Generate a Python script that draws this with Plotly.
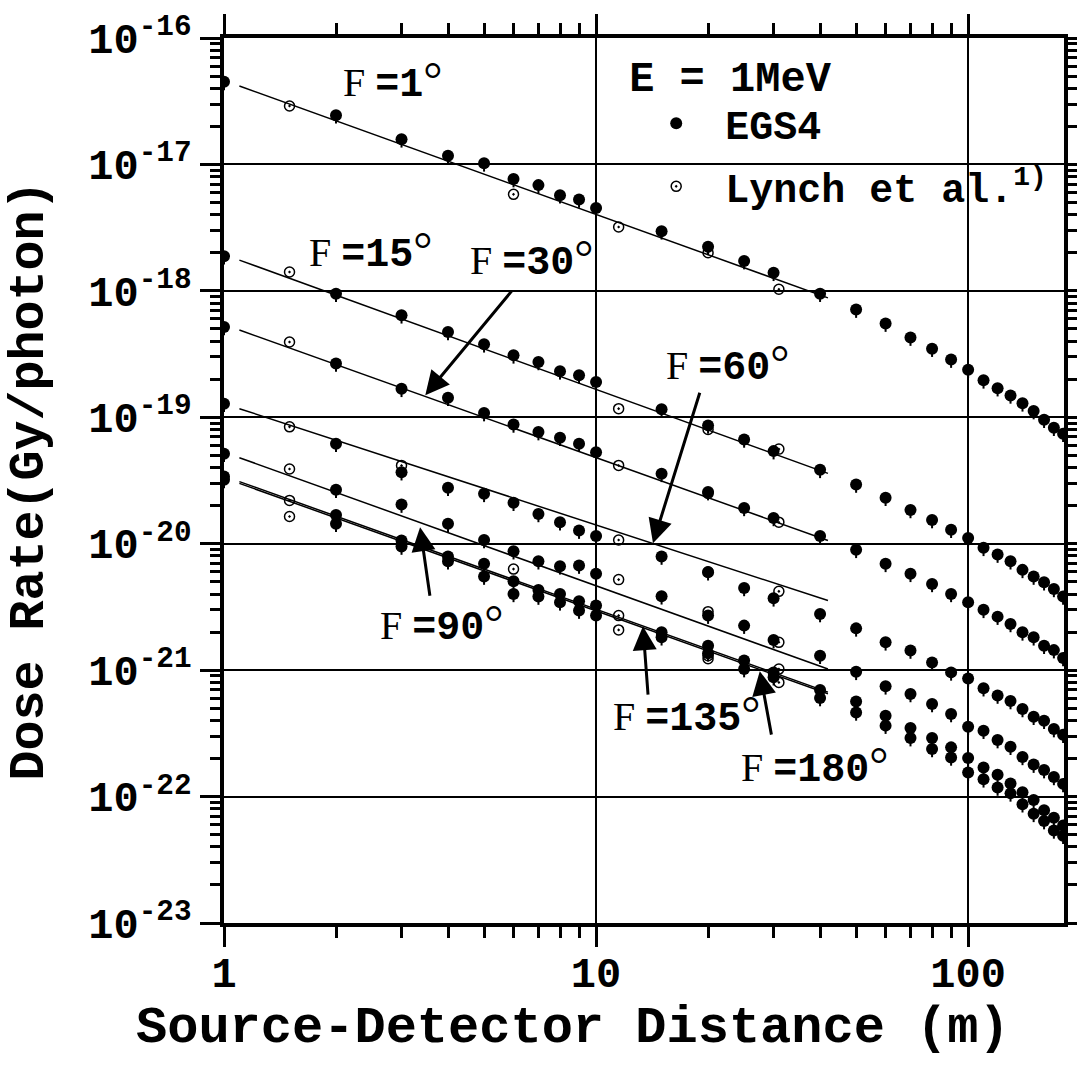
import plotly.graph_objects as go
import numpy as np

# ---------------- data ----------------
angles = ["1", "15", "30", "60", "90", "135", "180"]

x_egs = [1, 2, 3, 4, 5, 6, 7, 8, 9, 10, 15, 20, 25, 30, 40, 50, 60, 70, 80, 90,
         100, 110, 120, 130, 140, 150, 160, 170, 180]

egs_f1 = [4.5e-17, 2.45e-17, 1.58e-17, 1.17e-17, 1.02e-17, 7.66e-18, 6.86e-18, 5.71e-18, 5.28e-18, 4.53e-18,
          2.96e-18, 2.23e-18, 1.72e-18, 1.39e-18, 9.5e-19, 7.11e-19, 5.51e-19, 4.27e-19, 3.49e-19, 2.86e-19,
          2.38e-19, 1.96e-19, 1.70e-19, 1.49e-19, 1.29e-19, 1.12e-19, 9.57e-20, 8.27e-20, 7.42e-20]
egs_f15 = [1.88e-18, 9.5e-19, 6.41e-19, 4.73e-19, 3.78e-19, 3.09e-19, 2.74e-19, 2.31e-19, 2.15e-19, 1.90e-19,
           1.16e-19, 8.63e-20, 6.68e-20, 5.40e-20, 3.84e-20, 2.94e-20, 2.31e-20, 1.85e-20, 1.54e-20, 1.29e-20,
           1.11e-20, 9.28e-21, 8.21e-21, 7.27e-21, 6.21e-21, 5.50e-21, 4.96e-21, 4.39e-21, 3.82e-21]
egs_f30 = [5.18e-19, 2.66e-19, 1.68e-19, 1.43e-19, 1.08e-19, 8.78e-20, 7.64e-20, 6.89e-20, 6.18e-20, 5.30e-20,
           3.57e-20, 2.56e-20, 1.92e-20, 1.60e-20, 1.15e-20, 8.95e-21, 6.93e-21, 5.78e-21, 4.81e-21, 4.01e-21,
           3.44e-21, 3.0e-21, 2.65e-21, 2.32e-21, 1.99e-21, 1.82e-21, 1.56e-21, 1.44e-21, 1.25e-21]
egs_f60 = [1.28e-19, 6.18e-20, 3.68e-20, 2.77e-20, 2.48e-20, 2.11e-20, 1.72e-20, 1.48e-20, 1.27e-20, 1.15e-20,
           7.92e-21, 5.95e-21, 4.47e-21, 3.70e-21, 2.78e-21, 2.14e-21, 1.66e-21, 1.43e-21, 1.15e-21, 9.6e-22,
           8.6e-22, 7.2e-22, 6.3e-22, 5.7e-22, 4.93e-22, 4.28e-22, 3.98e-22, 3.42e-22, 3.08e-22]
egs_f90 = [5.15e-20, 2.67e-20, 2.04e-20, 1.44e-20, 1.07e-20, 8.73e-21, 7.27e-21, 6.63e-21, 6.72e-21, 5.78e-21,
           3.84e-21, 2.70e-21, 2.25e-21, 1.73e-21, 1.30e-21, 9.7e-22, 7.45e-22, 6.48e-22, 5.4e-22, 4.5e-22,
           3.57e-22, 3.32e-22, 2.8e-22, 2.48e-22, 2.06e-22, 1.79e-22, 1.62e-22, 1.43e-22, 1.26e-22]
egs_f135 = [3.4e-20, 1.69e-20, 1.06e-20, 7.92e-21, 6.93e-21, 5.05e-21, 4.31e-21, 4.01e-21, 3.51e-21, 3.24e-21,
            1.99e-21, 1.56e-21, 1.19e-21, 9.6e-22, 6.97e-22, 5.66e-22, 4.36e-22, 3.49e-22, 2.9e-22, 2.45e-22,
            2.02e-22, 1.70e-22, 1.49e-22, 1.27e-22, 1.08e-22, 9.4e-23, 7.8e-23, 6.8e-23, 5.9e-23]
egs_f180 = [3.2e-20, 1.44e-20, 9.5e-21, 7.27e-21, 5.5e-21, 4.01e-21, 3.82e-21, 3.44e-21, 2.96e-21, 2.70e-21,
            1.82e-21, 1.36e-21, 1.02e-21, 8.8e-22, 6.02e-22, 4.63e-22, 3.64e-22, 2.90e-22, 2.38e-22, 2.04e-22,
            1.55e-22, 1.37e-22, 1.18e-22, 1.06e-22, 8.7e-23, 7.3e-23, 6.4e-23, 5.4e-23, 4.9e-23]

# Lynch et al. values
lyn_x_f1 = [1.5, 6, 11.5, 20, 31]
lyn_f1 = [2.9e-17, 5.8e-18, 3.2e-18, 2.0e-18, 1.03e-18]
lyn_x_f15 = [1.5, 11.5, 20, 31]
lyn_f15 = [1.41e-18, 1.17e-19, 8.0e-20, 5.6e-20]
lyn_x_f30 = [1.5, 11.5, 20, 31]
lyn_f30 = [3.94e-19, 4.16e-20, 2.5e-20, 1.48e-20]
lyn_x_f60 = [1.5, 3, 11.5, 20, 31]
lyn_f60 = [8.4e-20, 4.16e-20, 1.07e-20, 6.0e-21, 4.2e-21]
lyn_x_f90 = [1.5, 6, 11.5, 20, 31]
lyn_f90 = [3.9e-20, 6.3e-21, 5.2e-21, 2.9e-21, 1.66e-21]
lyn_x_f135 = [1.5, 11.5, 20, 31]
lyn_f135 = [2.2e-20, 2.7e-21, 1.23e-21, 1.02e-21]
lyn_x_f180 = [1.5, 11.5, 20, 31]
lyn_f180 = [1.64e-20, 2.08e-21, 1.3e-21, 8.0e-22]

# fitted lines: end points
fit_x = [1.1, 42]
fit_f1 = [4.17e-17, 8.8e-19]
fit_f15 = [1.75e-18, 3.6e-20]
fit_f30 = [4.9e-19, 1.06e-20]
fit_f60 = [1.17e-19, 3.55e-21]
fit_f90 = [4.79e-20, 1.02e-21]
fit_f135 = [3.1e-20, 6.7e-22]
fit_f180 = [3.0e-20, 6.5e-22]

x_tickvals = [1, 10, 100]
x_ticktext = ["1", "10", "100"]
y_exponents = [-16, -17, -18, -19, -20, -21, -22, -23]

egs_all = [egs_f1, egs_f15, egs_f30, egs_f60, egs_f90, egs_f135, egs_f180]
lyn_x_all = [lyn_x_f1, lyn_x_f15, lyn_x_f30, lyn_x_f60, lyn_x_f90, lyn_x_f135, lyn_x_f180]
lyn_all = [lyn_f1, lyn_f15, lyn_f30, lyn_f60, lyn_f90, lyn_f135, lyn_f180]
fit_all = [fit_f1, fit_f15, fit_f30, fit_f60, fit_f90, fit_f135, fit_f180]

MONO = "Liberation Mono"
SERIF = "Liberation Serif"

fig = go.Figure()

for a, fy in zip(angles, fit_all):
    fig.add_trace(go.Scatter(x=fit_x, y=fy, mode="lines", line=dict(color="black", width=1.5),
                             showlegend=False, hoverinfo="skip", name=f"fit {a}"))

ex, ey = [], []
for ys in egs_all:
    ex += x_egs
    ey += ys
fig.add_trace(go.Scatter(
    x=ex, y=ey, mode="markers", name="EGS4", legendgroup="egs",
    marker=dict(symbol="circle", size=12, color="black"),
    error_y=dict(type="percent", symmetric=False, value=0, valueminus=14,
                 thickness=2, width=0, color="black"),
))

lx, ly = [], []
for xs, ys in zip(lyn_x_all, lyn_all):
    lx += xs
    ly += ys
fig.add_trace(go.Scatter(
    x=lx, y=ly, mode="markers", name="Lynch et al.<sup>1)</sup>", legendgroup="lyn",
    marker=dict(symbol="circle-open-dot", size=10, color="black", line=dict(width=1.5, color="black")),
))

# minor ticks
minor_x = [m * 10 ** k for k in range(0, 3) for m in range(2, 10) if m * 10 ** k < 181]
minor_y = [m * 10.0 ** k for k in range(-23, -16) for m in range(2, 10)]

axis_common = dict(
    type="log", showline=True, linecolor="black", linewidth=4, mirror="allticks",
    ticks="outside", ticklen=20, tickwidth=3, tickcolor="black",
    showgrid=True, gridcolor="black", gridwidth=1.5, zeroline=False, automargin=False,
    tickfont=dict(family=MONO, size=42, color="black", weight="bold"),
)

fig.update_xaxes(
    **axis_common,
    range=[0, np.log10(181)],
    tickvals=x_tickvals, ticktext=x_ticktext, ticklabelstandoff=-10,
    minor=dict(ticks="outside", ticklen=11, tickwidth=3, tickcolor="black", tickvals=minor_x, showgrid=False),
)
fig.update_yaxes(
    **axis_common,
    range=[-23, -16],
    tickvals=[10.0 ** e for e in y_exponents],
    ticktext=[f"10<sup>{e}</sup>" for e in y_exponents],
    minor=dict(ticks="outside", ticklen=10, tickwidth=3, tickcolor="black", tickvals=minor_y, showgrid=False),
    title=dict(text="Dose Rate(Gy/photon)", standoff=30,
               font=dict(family=MONO, size=50, color="black", weight="bold")),
)

# x-axis title
fig.add_annotation(x=0.415, y=-0.1195, xref="paper", yref="paper", showarrow=False,
                   text="Source-Detector Distance (m)", xanchor="center", yanchor="middle",
                   font=dict(family=MONO, size=52, color="black", weight="bold"))

# curve labels
lab_font = dict(family=MONO, size=40, color="black", weight="bold")
def ftxt(a):
    return (f'<span style="font-family:{SERIF};font-weight:normal">F </span>={a}'
            f'<span style="font-family:{SERIF};font-weight:normal;font-size:48px">°</span>')

labels = [("1", 0.452, -16.336), ("15", 0.393, -17.680), ("30", 0.826, -17.743),
          ("60", 1.352, -18.573), ("90", 0.584, -20.628), ("135", 1.242, -21.348),
          ("180", 1.586, -21.751)]
for a, lxp, lyp in labels:
    fig.add_annotation(x=lxp, y=lyp, xref="x", yref="y", text=ftxt(a), showarrow=False,
                       font=lab_font, xanchor="center", yanchor="middle")

arrows = [(0.541, -18.826, 0.777, -17.988), (1.153, -19.996, 1.280, -18.794),
          (0.527, -19.870, 0.554, -20.423), (1.126, -20.652, 1.140, -21.206),
          (1.440, -21.008, 1.472, -21.522)]
for hx, hy, tx, ty in arrows:
    fig.add_annotation(x=hx, y=hy, ax=tx, ay=ty, xref="x", yref="y", axref="x", ayref="y",
                       text="", showarrow=True, arrowhead=2, arrowsize=1.6, arrowwidth=3,
                       arrowcolor="black", standoff=0, startstandoff=0)

fig.update_layout(
    width=1077, height=1078,
    margin=dict(l=224, r=13, t=38, b=155),
    paper_bgcolor="white", plot_bgcolor="white",
    font=dict(family=MONO, color="black"),
    legend=dict(
        x=0.480, y=1.002, xanchor="left", yanchor="top",
        bgcolor="rgba(0,0,0,0)", borderwidth=0,
        font=dict(family=MONO, size=40, color="black", weight="bold"),
        title=dict(text="E = 1MeV", font=dict(family=MONO, size=42, color="black", weight="bold")),
        itemwidth=88, tracegroupgap=8, traceorder="grouped",
    ),
)

fig.write_html("out.html")
